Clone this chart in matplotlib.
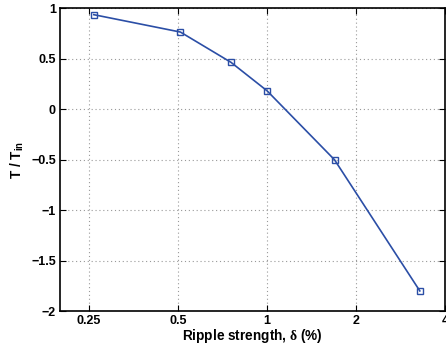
import matplotlib
matplotlib.use('Agg')
import matplotlib.pyplot as plt
from matplotlib.ticker import FixedLocator, FixedFormatter, NullLocator

plt.rcParams['font.family'] = ['Liberation Sans', 'DejaVu Sans']
plt.rcParams['font.weight'] = 'bold'
plt.rcParams['mathtext.fontset'] = 'custom'
plt.rcParams['mathtext.rm'] = 'Liberation Serif'
plt.rcParams['mathtext.bf'] = 'Liberation Sans:bold'

# ripple strength (%) and normalised T
delta = [0.26, 0.51, 0.756, 1.0, 1.69, 3.28]
t_ratio = [0.934, 0.762, 0.462, 0.181, -0.502, -1.80]

xticks = [0.25, 0.5, 1, 2, 4]
xticklabels = ['0.25', '0.5', '1', '2', '4']
yticks = [-2, -1.5, -1, -0.5, 0, 0.5, 1]
yticklabels = ['\u22122', '\u22121.5', '\u22121', '\u22120.5', '0', '0.5', '1']

fig = plt.figure(figsize=(4.46, 3.48), dpi=100)
ax = fig.add_axes([0.1345, 0.106, 0.864, 0.871])

ax.plot(delta, t_ratio, color='#2b4ea6', lw=1.2, marker='s', ms=4.5,
        mfc='none', mec='#2b4ea6', mew=1.0)

ax.set_xscale('log')
ax.set_xlim(0.2, 4)
ax.set_ylim(-2, 1)
ax.xaxis.set_major_locator(FixedLocator(xticks))
ax.xaxis.set_major_formatter(FixedFormatter(xticklabels))
ax.xaxis.set_minor_locator(NullLocator())
ax.set_yticks(yticks)
ax.set_yticklabels(yticklabels)

ax.grid(True, color='#999999', ls=(0, (1, 2.5)), lw=0.8)
ax.tick_params(direction='in', top=True, right=True, labelsize=9, length=4, width=0.8, pad=3)
for s in ax.spines.values():
    s.set_linewidth(1.2)

ax.set_xlabel(r'Ripple strength, $\mathrm{\delta}$ (%)', fontsize=9.8, fontweight='bold', labelpad=0)
ax.set_ylabel(r'T / T$_{\mathbf{in}}$', fontsize=9.8, fontweight='bold', labelpad=4)

fig.savefig('out.png', dpi=100)
